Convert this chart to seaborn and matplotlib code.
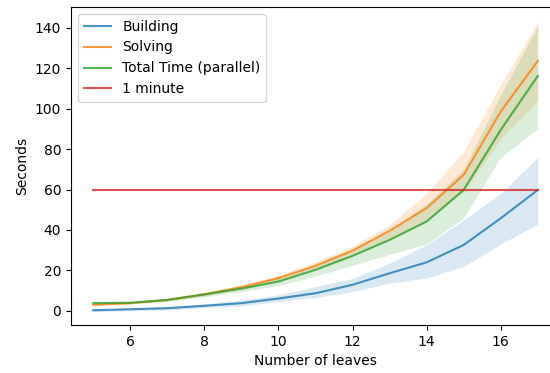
import matplotlib
matplotlib.use("Agg")
import matplotlib.pyplot as plt
import seaborn as sns

# number of leaves
leaves = [5, 6, 7, 8, 9, 10, 11, 12, 13, 14, 15, 16, 17]

# mean times (seconds)
building = [0.3, 0.8, 1.3, 2.5, 3.8, 6.1, 8.7, 12.9, 18.6, 24.0, 32.6, 45.8, 59.8]
solving = [3.0, 3.8, 5.4, 8.2, 11.7, 16.2, 22.3, 29.8, 39.6, 50.8, 67.3, 98.6, 123.6]
total = [3.8, 4.0, 5.4, 8.1, 11.0, 14.5, 20.3, 27.2, 35.1, 44.2, 59.8, 89.5, 116.2]

# confidence bands
building_lo = [-0.3, 0.0, 0.5, 1.5, 2.5, 4.6, 6.6, 9.5, 13.7, 16.2, 21.9, 33, 43]
building_hi = [0.8, 1.4, 2.1, 3.5, 5.4, 7.9, 12, 16, 23.6, 32.6, 45, 58, 76]
solving_lo = [2.5, 3.3, 4.8, 7.4, 10.6, 14.8, 20.3, 27.2, 35.5, 44.5, 59, 85, 104]
solving_hi = [3.5, 4.3, 6.0, 9.0, 12.8, 17.6, 24.3, 32.0, 42.5, 58, 79, 112, 143]
total_lo = [3.3, 3.5, 4.8, 7.0, 9.5, 12.5, 17.2, 22.5, 28.0, 33, 46, 76, 90]
total_hi = [4.3, 4.5, 6.0, 9.0, 12.3, 16.5, 23.0, 30.5, 39.5, 53, 70, 107, 141]

one_minute = [60] * len(leaves)

fig = plt.figure(figsize=(5.5, 3.73), dpi=100)
ax = fig.add_axes([71 / 550, 48 / 373, 489 / 550, 318 / 373])

colors = sns.color_palette("tab10")

sns.lineplot(x=leaves, y=building, color=colors[0], alpha=0.8, label="Building", ax=ax)
ax.fill_between(leaves, building_lo, building_hi, color=colors[0], alpha=0.17, linewidth=0)
sns.lineplot(x=leaves, y=solving, color=colors[1], alpha=0.8, label="Solving", ax=ax)
ax.fill_between(leaves, solving_lo, solving_hi, color=colors[1], alpha=0.17, linewidth=0)
sns.lineplot(x=leaves, y=total, color=colors[2], alpha=0.8, label="Total Time (parallel)", ax=ax)
ax.fill_between(leaves, total_lo, total_hi, color=colors[2], alpha=0.17, linewidth=0)
sns.lineplot(x=leaves, y=one_minute, color=colors[3], alpha=0.8, label="1 minute", ax=ax)

ax.set_xlim(4.4, 17.6)
ax.set_ylim(-7, 150.3)
ax.set_xticks([6, 8, 10, 12, 14, 16])
ax.set_yticks([0, 20, 40, 60, 80, 100, 120, 140])
ax.set_xlabel("Number of leaves")
ax.set_ylabel("Seconds")
ax.legend(loc="upper left")

fig.savefig("out.png", dpi=100)
